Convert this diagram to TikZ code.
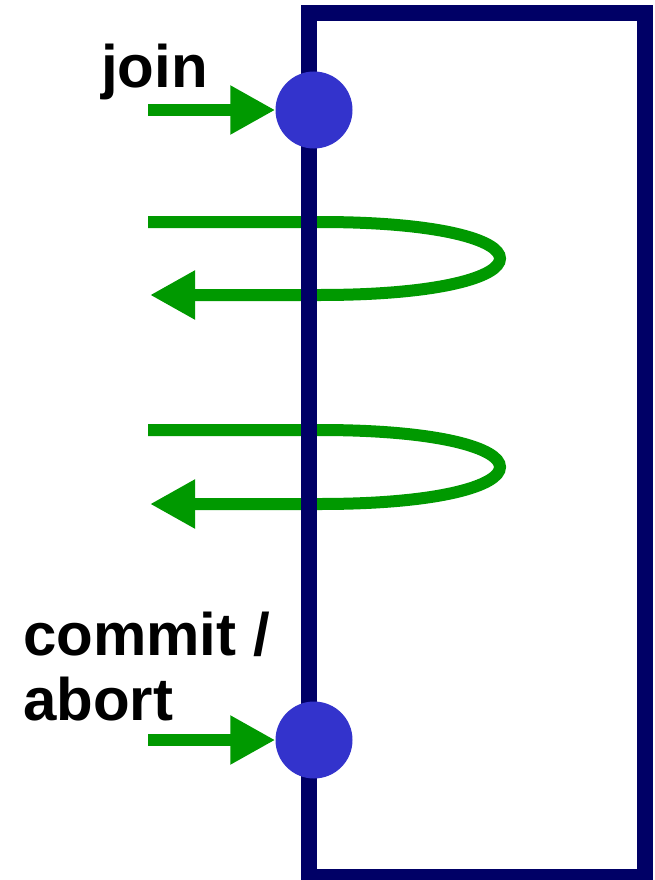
\documentclass[tikz,border=0pt]{standalone}
\usepackage{fontspec}
\setmainfont{Liberation Sans}
\usetikzlibrary{arrows.meta}
\definecolor{navyline}{RGB}{0,0,102}
\definecolor{dotblue}{RGB}{51,51,204}
\definecolor{flowgreen}{RGB}{0,153,0}
\begin{document}
\begin{tikzpicture}[x=1pt,y=-1pt,
  frame/.style={draw=navyline,line width=16pt,line join=miter},
  dot/.style={circle,fill=dotblue,minimum size=77pt,inner sep=0pt},
  flow/.style={draw=flowgreen,line width=12pt,-{Triangle[length=45pt,width=46pt]}},
  lbl/.style={font=\bfseries\fontsize{60}{65}\selectfont,inner sep=0pt,anchor=base west}]
\useasboundingbox (0,0) rectangle (654,880);
\clip (0,0) rectangle (654,880);
% loops (under the frame)
\coordinate (l1s) at (148,222);
\coordinate (l1e) at (150,295);
\coordinate (l2s) at (148,430);
\coordinate (l2e) at (150,504);
\draw[flow] (l1s) -- (320,222) .. controls (560,222) and (560,295) .. (320,295) -- (l1e);
\draw[flow] (l2s) -- (320,430) .. controls (560,430) and (560,504) .. (320,504) -- (l2e);
% frame
\draw[frame] (309,13.5) rectangle (645,877);
% dots
\node[dot] (join) at (314,110) {};
\node[dot] (commit) at (314,740) {};
% entry arrows
\coordinate (js) at (148,110);
\coordinate (cs) at (148,740);
\draw[flow] (js) -- (join.west);
\draw[flow] (cs) -- (commit.west);
% labels
\node[lbl] (tjoin) at (101,88) {join};
\node[lbl] (tcommit) at (23,655) {commit /};
\node[lbl] (tabort) at (23,720) {abort};
\end{tikzpicture}
\end{document}
